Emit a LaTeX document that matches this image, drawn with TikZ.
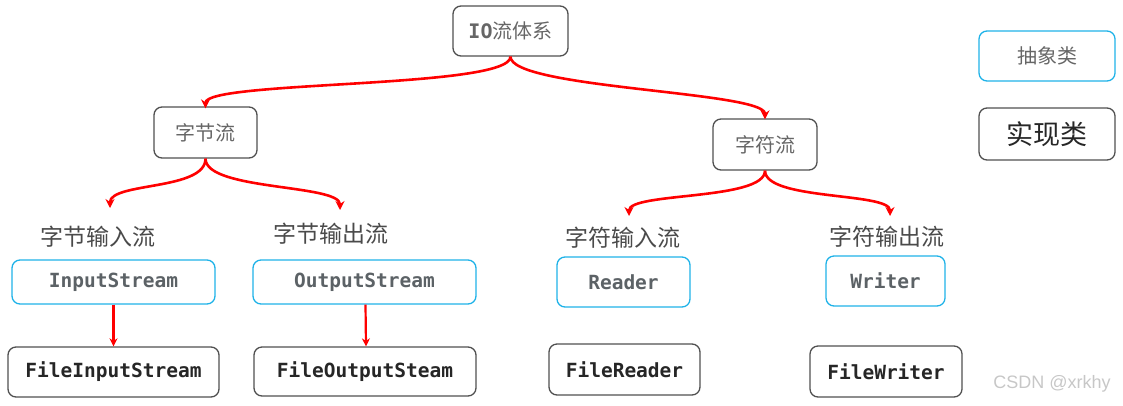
\documentclass[tikz,border=0pt]{standalone}
\usepackage{fontspec}
\newfontfamily\cjk{Noto Sans CJK SC}
\newfontfamily\code{DejaVu Sans Mono}
\newfontfamily\wm{Liberation Sans}
\usetikzlibrary{arrows.meta}
\definecolor{absblue}{HTML}{1EB2E8}
\definecolor{implgray}{HTML}{505050}
\definecolor{arrowred}{HTML}{FF0000}
\definecolor{txtgray}{HTML}{666666}
\definecolor{codegray}{HTML}{5C6266}
\definecolor{codedark}{HTML}{262626}
\definecolor{labgray}{HTML}{4A4A4A}
\begin{document}
\begin{tikzpicture}[x=1pt,y=-1pt,
  box/.style={rounded corners=8pt, line width=1.3pt, inner sep=0pt, align=center},
  absbox/.style={box, draw=absblue},
  implbox/.style={box, draw=implgray},
  cnbox/.style={implbox, font=\cjk\fontsize{20}{20}\selectfont, text=txtgray},
  abscode/.style={absbox, font=\code\bfseries\fontsize{19.5}{19.5}\selectfont, text=codegray},
  implcode/.style={implbox, font=\code\bfseries\fontsize{19.5}{19.5}\selectfont, text=codedark},
  lab/.style={font=\cjk\fontsize{23}{23}\selectfont, text=labgray, inner sep=0pt},
  flow/.style={draw=arrowred, line width=2.6pt, -{Stealth[length=9pt,width=9pt]}},
  link/.style={draw=arrowred, line width=2.2pt, -{Stealth[length=8pt,width=8pt]}}
]
\useasboundingbox (0,0) rectangle (1123,405);

% top of the hierarchy
\node[cnbox, minimum width=115pt, minimum height=50pt] (io) at (510.5,31)
  {{\code\bfseries IO}流体系};
\node[cnbox, minimum width=103pt, minimum height=51pt] (byte) at (205.5,132.5) {字节流};
\node[cnbox, minimum width=104pt, minimum height=51pt] (char) at (765,144.5) {字符流};

% legend
\node[absbox, minimum width=136pt, minimum height=50pt, font=\cjk\fontsize{20}{20}\selectfont, text=txtgray] (legabs) at (1047,56) {抽象类};
\node[implbox, minimum width=136pt, minimum height=52pt, font=\cjk\fontsize{27}{27}\selectfont, text=codedark] (legimpl) at (1047,134) {实现类};

% stream direction labels
\node[lab] (bin) at (98,237) {字节输入流};
\node[lab] (bout) at (331,234) {字节输出流};
\node[lab] (cin) at (623,238) {字符输入流};
\node[lab] (cout) at (887,237) {字符输出流};
\coordinate (binTip) at (110,208);
\coordinate (boutTip) at (340,210);
\coordinate (cinTip) at (629,216);
\coordinate (coutTip) at (890,216);

% abstract classes
\node[abscode, minimum width=203pt, minimum height=44pt] (is) at (113.5,282) {InputStream};
\node[abscode, minimum width=223pt, minimum height=44pt] (os) at (364.5,282) {OutputStream};
\node[abscode, minimum width=133pt, minimum height=50pt] (rd) at (623.5,282) {Reader};
\node[abscode, minimum width=119pt, minimum height=50pt] (wr) at (885.5,281) {Writer};

% implementation classes
\node[implcode, minimum width=211pt, minimum height=50pt] (fis) at (113.5,372) {FileInputStream};
\node[implcode, minimum width=222pt, minimum height=49pt] (fos) at (365,371.5) {FileOutputSteam};
\node[implcode, minimum width=151pt, minimum height=51pt] (frd) at (624.5,369.5) {FileReader};
\node[implcode, minimum width=152pt, minimum height=51pt] (fwr) at (886,371.5) {FileWriter};

% branching connectors
\path[flow] (io.south) .. controls +(0,32) and +(0,-28) .. ([yshift=-2pt]byte.north);
\path[flow] (io.south) .. controls +(0,32) and +(0,-28) .. ([yshift=-1pt]char.north);
\path[flow] (byte.south) .. controls +(0,32) and +(0,-26) .. (binTip);
\path[flow] (byte.south) .. controls +(0,32) and +(0,-26) .. (boutTip);
\path[flow] (char.south) .. controls +(0,30) and +(0,-24) .. (cinTip);
\path[flow] (char.south) .. controls +(0,30) and +(0,-24) .. (coutTip);

% inheritance links
\path[link] (is.south) -- (fis.north);
\path[link] ([xshift=1pt]os.south) -- ([xshift=1pt]fos.north);

% watermark
\node[font=\wm\fontsize{18}{18}\selectfont, text=black!22, inner sep=0pt] (mark) at (1052,384) {CSDN @xrkhy};
\end{tikzpicture}
\end{document}
